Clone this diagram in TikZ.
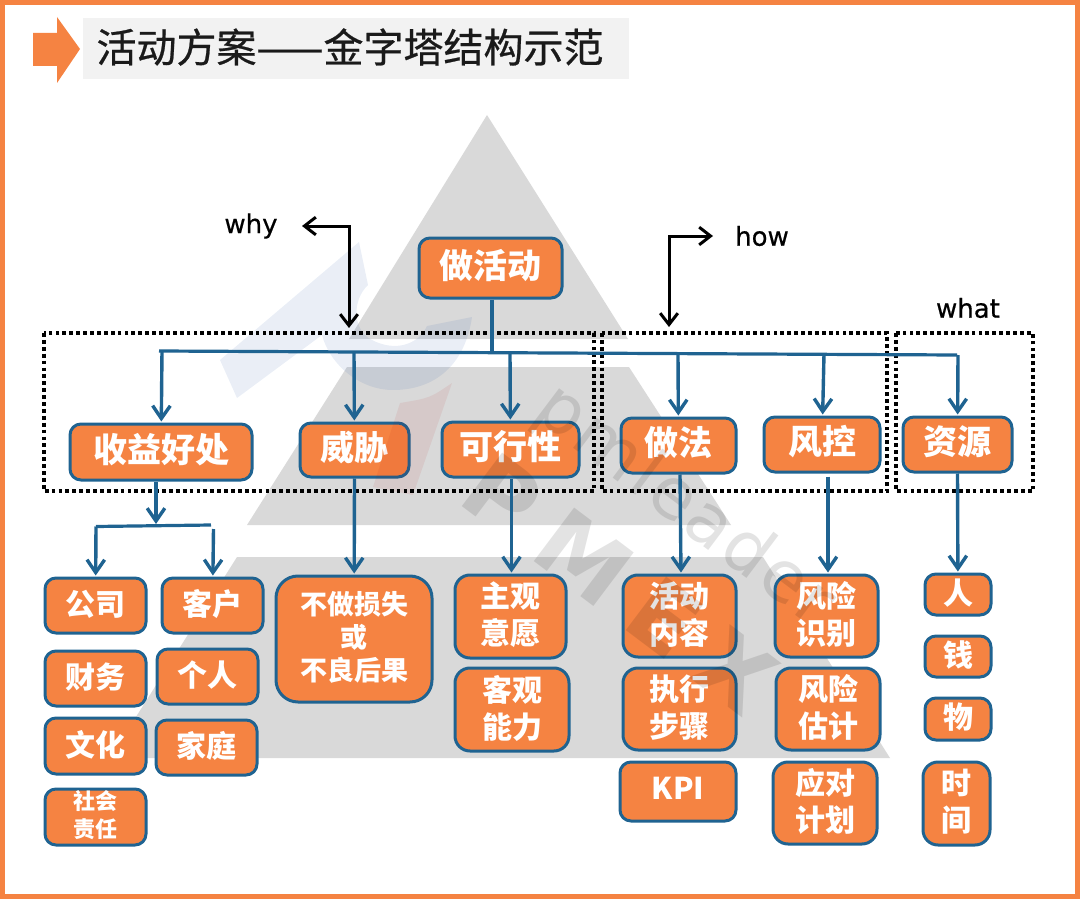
\documentclass[tikz,border=0pt]{standalone}
\usepackage{fontspec}
\setmainfont{Noto Sans CJK SC}
\newfontfamily\titlefont[FakeBold=0.6]{Noto Sans CJK SC}
\newfontfamily\latinfont[FakeBold=0.5]{DejaVu Sans}
\newfontfamily\wmbigfont[LetterSpace=25]{DejaVu Sans}
\newfontfamily\wmsmallfont[LetterSpace=4]{DejaVu Sans}
\usetikzlibrary{arrows.meta}
\definecolor{pmorange}{HTML}{F58342}
\definecolor{pmblue}{HTML}{1F6391}
\definecolor{pmgrey}{HTML}{D9D9D9}
\definecolor{pmpanel}{HTML}{F2F2F2}
\definecolor{pmink}{HTML}{1A1A1A}
\definecolor{pmlogo}{HTML}{2F5CA8}
\tikzset{
  bx/.style={draw=pmblue, fill=pmorange, line width=3pt, align=center, text=white, inner sep=0pt},
  hd/.style={bx, rounded corners=11pt, text depth=9pt, font=\fontsize{34}{40}\selectfont\bfseries},
  sb/.style={bx, rounded corners=11pt, text depth=6pt, font=\fontsize{30}{37}\selectfont\bfseries},
  tw/.style={bx, rounded corners=15pt, text depth=6pt, font=\fontsize{30}{37}\selectfont\bfseries},
  ls/.style={bx, rounded corners=22pt, text depth=6pt, font=\fontsize{27}{33}\selectfont\bfseries},
  sc/.style={bx, rounded corners=11pt, text depth=5pt, font=\fontsize{22}{28}\selectfont\bfseries},
  tier/.style={fill=pmgrey},
  arr/.style={-{Straight Barb[length=4.5mm,width=6.2mm]}, line width=3.4pt, color=pmblue, shorten >=1pt},
  lnk/.style={line width=3.2pt, color=pmblue},
  dir/.style={{Straight Barb[length=4mm,width=6.2mm]}-{Straight Barb[length=4mm,width=6.2mm]}, line width=3pt, color=black},
  zone/.style={draw=black, line width=3.8pt, dash pattern=on 3.8pt off 3.1pt},
  lbl/.style={font=\latinfont\fontsize{26}{30}\selectfont, color=black},
  wmk/.style={rotate=-37, text=black, text opacity=.11, inner sep=0pt},
}
\begin{document}
\begin{tikzpicture}[x=1pt,y=-1pt]
  \useasboundingbox (0,0) rectangle (1080,899);
  \draw[pmorange, line width=5pt] (2.5,2.5) rectangle (1077.5,896.5);
  \fill[pmorange] (33,33) -- (57,33) -- (57,17) -- (80,49) -- (57,83) -- (57,66) -- (33,66) -- cycle;
  \fill[pmpanel] (83,18) rectangle (629,79);
  \node[font=\titlefont\fontsize{40}{44}\selectfont, text=pmink, inner sep=0pt] (title) at (350,47) {活动方案——金字塔结构示范};
  \fill[tier] (487,115) -- (628,339) -- (349,339) -- cycle;
  \fill[tier] (347,367) -- (629,367) -- (731,525) -- (247,525) -- cycle;
  \fill[tier] (237,557) -- (763,557) -- (890,758) -- (110,758) -- cycle;
  \fill[pmlogo, opacity=.1] (359,242) -- (368,285) .. controls (352,300) and (352,330) .. (372,340)
    .. controls (395,352) and (418,345) .. (427,326) -- (472,317)
    .. controls (465,365) and (435,390) .. (393,390) .. controls (360,390) and (330,365) .. (322,335)
    -- (237,398) -- (220,360) -- cycle;
  \foreach \nm/\xa/\ya/\xb/\yb/\sty/\txt in {
    goal/418/237/563/299/hd/做活动, benefit/69/423/253/481/hd/收益好处, threat/299/422/410/478/hd/威胁,
    feasible/441/421/580/478/hd/可行性, method/620/417/737/474/hd/做法, riskctl/763/416/881/473/hd/风控,
    resource/902/416/1013/473/hd/资源,
    company/44/577/147/634/sb/公司, customer/161/577/264/634/sb/客户, finance/44/650/147/707/sb/财务,
    person/156/648/259/705/sb/个人, culture/44/717/147/775/sb/文化, family/155/719/258/776/sb/家庭,
    social/44/788/147/846/sc/社会\\责任, loss/275/575/433/703/ls/不做损失\\或\\不良后果,
    will/454/574/567/659/tw/主观\\意愿, ability/454/667/570/752/tw/客观\\能力,
    content/622/574/737/658/tw/活动\\内容, steps/622/667/737/751/tw/执行\\步骤, kpi/619/761/737/822/sb/KPI,
    riskid/774/574/879/658/tw/风险\\识别, riskest/775/667/881/751/tw/风险\\估计, plan/772/761/878/845/tw/应对\\计划,
    people/924/573/992/616/sb/人, money/924/635/992/678/sb/钱, goods/924/697/992/741/sb/物, hours/922/761/991/846/tw/时\\间}
    { \node[\sty, minimum width={(\xb-\xa-2)*1pt}, minimum height={(\yb-\ya-2)*1pt}] (\nm) at ({(\xa+\xb)/2},{(\ya+\yb)/2}) {\txt}; }
  \fill[red!70!black, opacity=.07] (452,383) .. controls (430,398) .. (400,403) -- (373,487) -- (413,495) -- cycle;
  \node[wmk, font=\wmbigfont\bfseries\fontsize{92}{92}\selectfont] (wmbig) at (620,584) {PMEX};
  \node[wmk, font=\wmsmallfont\fontsize{70}{70}\selectfont] (wmsmall) at (684,507) {pmleader};
  \draw[zone] (44,333) rectangle (594,491);
  \draw[zone] (602,333) rectangle (887,491);
  \draw[zone] (896,333) rectangle (1033,491);
  \coordinate (busl) at (159,351);
  \coordinate (busr) at (957,355);
  \coordinate (bustop) at (492,353);
  \coordinate (busa) at (162,351);
  \coordinate (busb) at (354,352);
  \coordinate (busc) at (510,353);
  \coordinate (busd) at (678,354);
  \coordinate (buse) at (824,354);
  \coordinate (busf) at (958,355);
  \coordinate (brl) at (96,526.5);
  \coordinate (brr) at (211,525);
  \coordinate (brm) at (156,525);
  \coordinate (brdrop) at (213.5,529);
  \draw[lnk] (busl) -- (busr);
  \draw[lnk] ([xshift=1.5pt]goal.south) -- (bustop);
  \foreach \src/\dst in {busa/benefit,busb/threat,busc/feasible,busd/method,buse/riskctl,busf/resource}
    { \draw[arr] (\src) -- (\dst); }
  \draw[arr] ([xshift=-5pt]benefit.south) -- (brm);
  \draw[lnk] (brl) -- (brr);
  \draw[arr] (brl) -- (company);
  \draw[arr] (brdrop) -- (customer);
  \draw[arr] (threat.south) -- (loss);
  \draw[arr] ([xshift=1pt]feasible.south) -- ([xshift=1pt]will.north);
  \draw[arr] ([xshift=1.5pt]method.south) -- ([xshift=1.5pt]content.north);
  \draw[arr, shorten <=3pt] ([xshift=6pt]riskctl.south) -- ([xshift=1.5pt]riskid.north);
  \draw[arr] (resource.south) -- (people);
  \node[lbl] (why) at (251,226) {why};
  \node[lbl] (how) at (762,236) {how};
  \node[lbl] (what) at (968,308) {what};
  \coordinate (whytip) at (302,226);
  \coordinate (whycnr) at (349,226);
  \coordinate (whyend) at (349,328);
  \coordinate (howtip) at (713,236);
  \coordinate (howcnr) at (669,236);
  \coordinate (howend) at (669,327);
  \draw[dir] (whytip) -- (whycnr) -- (whyend);
  \draw[dir] (howtip) -- (howcnr) -- (howend);
\end{tikzpicture}
\end{document}
